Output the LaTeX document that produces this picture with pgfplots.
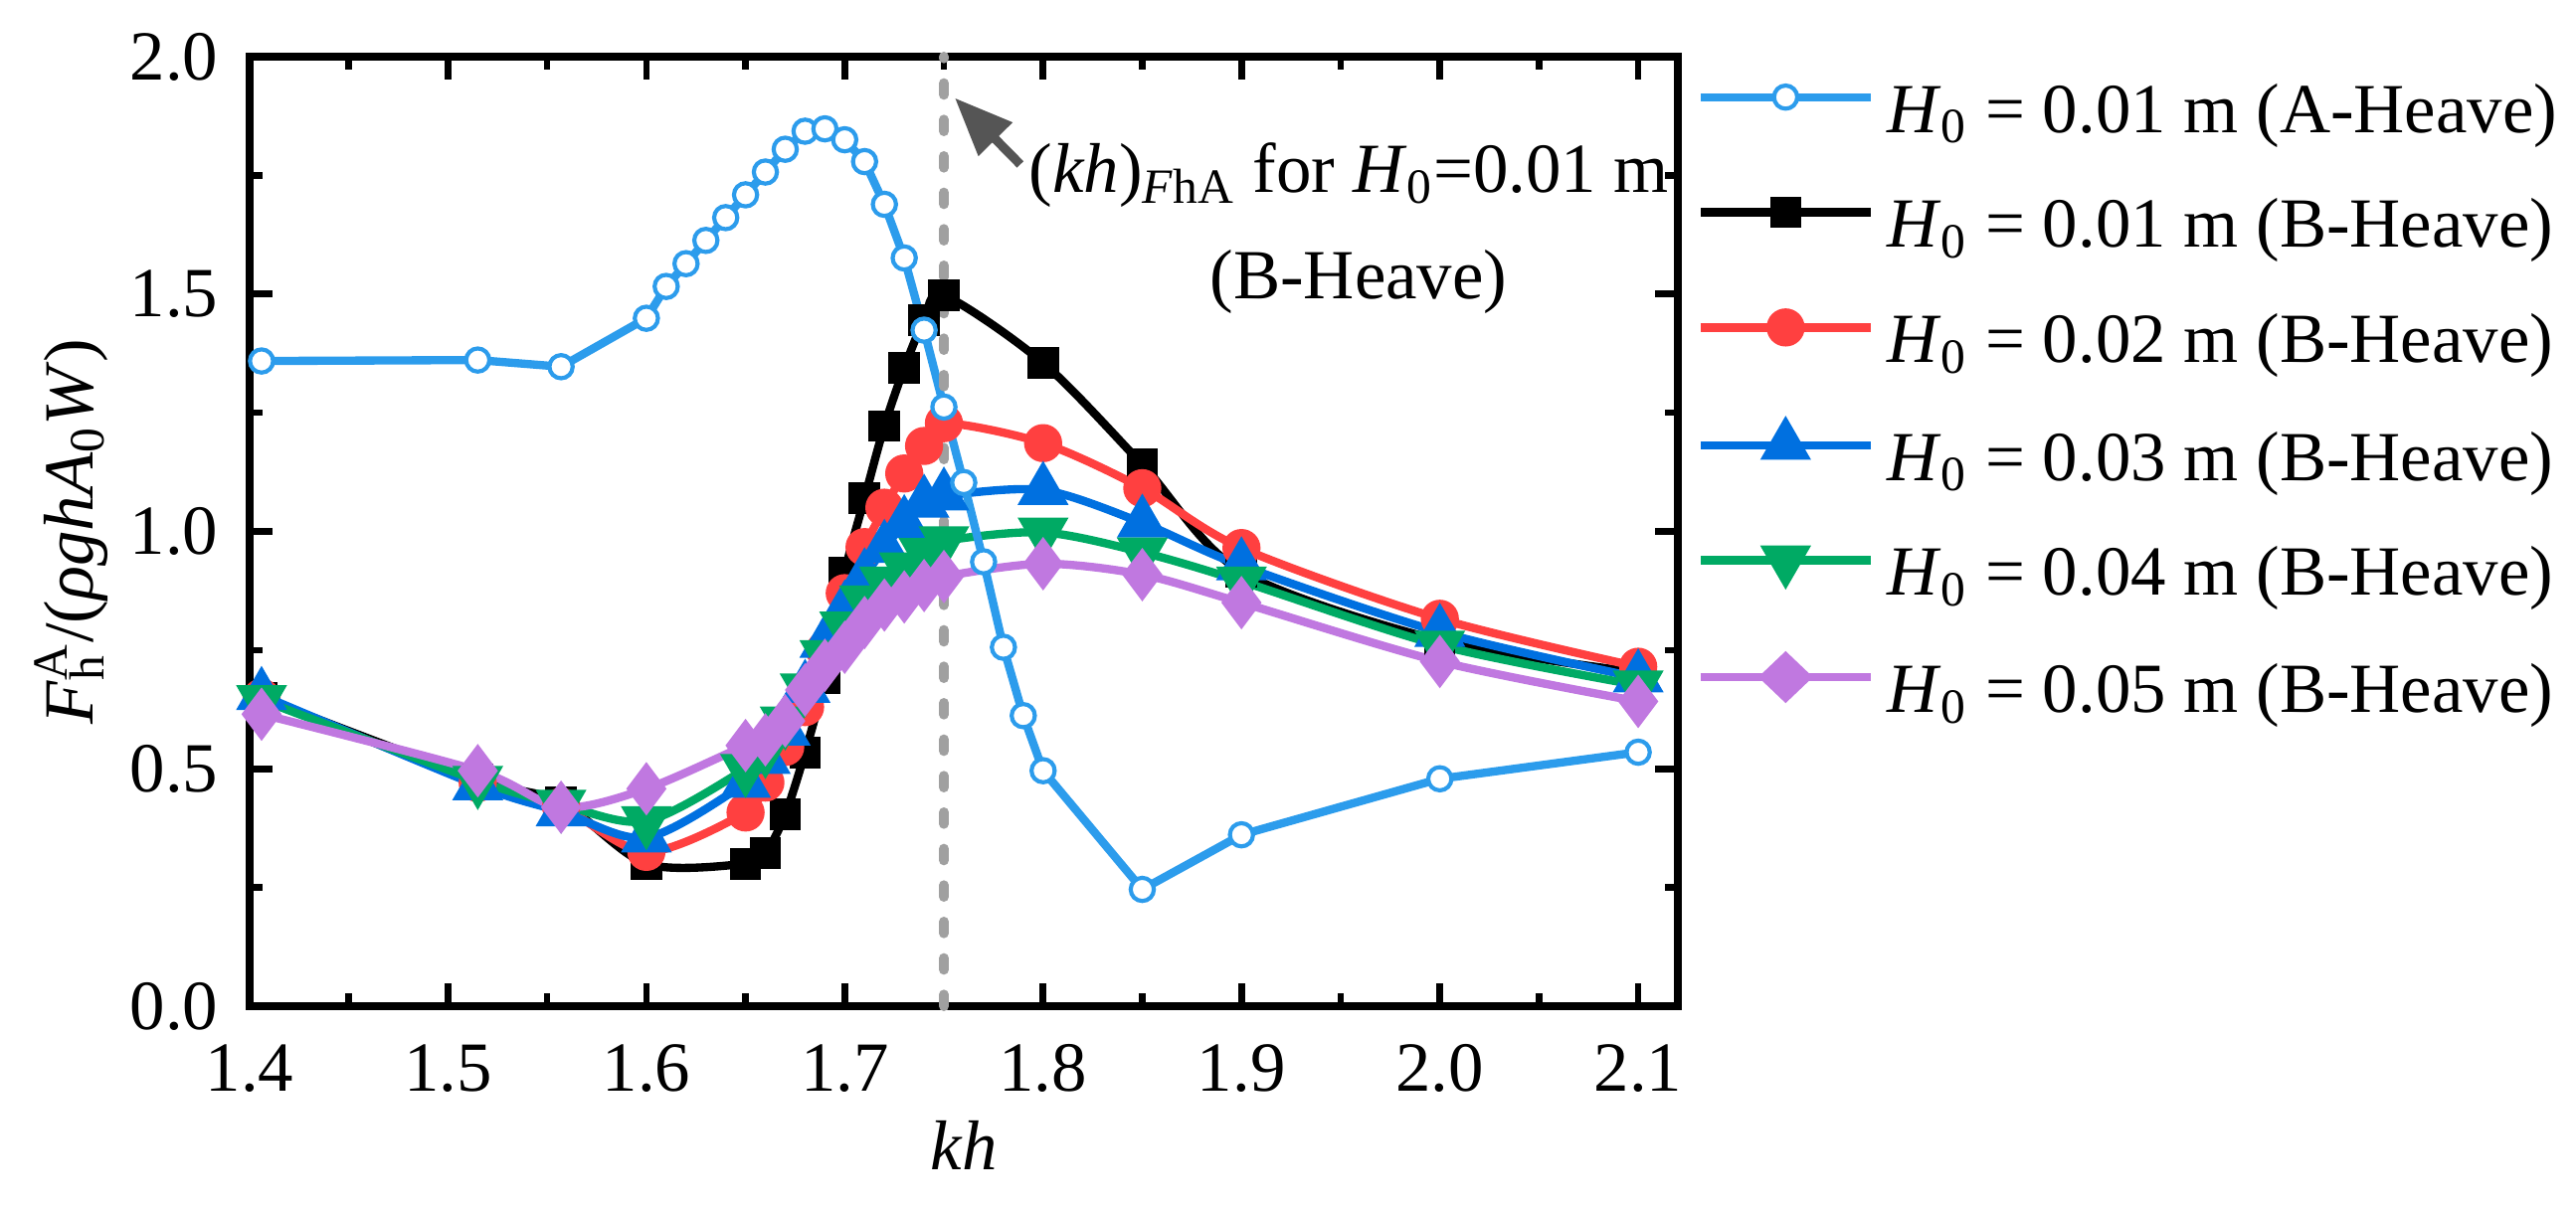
\documentclass[border=0pt]{standalone}
\usepackage{fontspec}
\setmainfont{Liberation Serif}
\usepackage{pgfplots}
\pgfplotsset{compat=1.18}
\usetikzlibrary{arrows.meta}

\definecolor{cA}{RGB}{44,156,236}
\definecolor{cR}{RGB}{255,64,64}
\definecolor{cB}{RGB}{0,112,224}
\definecolor{cG}{RGB}{0,170,100}
\definecolor{cP}{RGB}{192,120,224}
\definecolor{cD}{RGB}{160,160,160}
\definecolor{cArr}{RGB}{85,85,85}

\begin{document}
\begin{tikzpicture}[font=\fontsize{17bp}{20bp}\selectfont]
\path[use as bounding box] (-60.24bp,-48.96bp) rectangle (561.36bp,242.88bp);
\begin{axis}[
    at={(0,0)}, anchor=south west,
    scale only axis, width=344.64bp, height=229.2bp,
    xmin=1.4, xmax=2.12, ymin=0, ymax=2,
    xtick={1.4,1.5,1.6,1.7,1.8,1.9,2.0,2.1},
    minor xtick={1.45,1.55,1.65,1.75,1.85,1.95,2.05},
    ytick={0,0.5,1,1.5,2},
    minor ytick={0.25,0.75,1.25,1.75},
    tick align=inside, tick pos=both,
    major tick length=5.6bp, minor tick length=3.2bp,
    every tick/.style={black, line width=1.6bp},
    axis line style={line width=1.7bp},
    /pgf/number format/assume math mode=true,
    /pgf/number format/.cd, fixed, fixed zerofill, precision=1,
    /pgfplots/.cd,
    xticklabel style={inner sep=0pt, yshift=-9bp},
    yticklabel style={inner sep=0pt, xshift=-7.4bp},
    xlabel={\textit{kh}},
    ylabel={\textit{F}\rlap{\textsubscript{h}}\textsuperscript{A}/(\textit{ρghA}\textsubscript{0}\textit{W})},
    every axis x label/.style={at={(axis description cs:0.5,-0.1466)}, anchor=center},
    every axis y label/.style={at={(axis description cs:-0.1248,0.5)}, rotate=90, anchor=center},
    clip=false,
    legend style={at={(rel axis cs:1.0125,0.628)}, anchor=west, draw=none, fill=none,
        inner sep=0pt, row sep=7.8bp, column sep=3bp,
        nodes={inner sep=0pt, text height=13bp, text depth=7bp}},
    legend cell align=left,
    legend image code/.code={\draw[mark repeat=2, mark phase=2, yshift=5.5bp] plot coordinates {(0bp,0bp)(20.5bp,0bp)(41bp,0bp)};},
]

% H0 = 0.01 m (B-Heave)
\addplot[black, line width=2bp, smooth, mark=square*, mark size=2.8bp, forget plot]
coordinates {(1.406,0.650)(1.515,0.478)(1.557,0.430)(1.600,0.300)(1.650,0.300)(1.660,0.322)(1.670,0.404)(1.680,0.534)(1.690,0.691)(1.700,0.913)(1.710,1.070)(1.720,1.222)(1.730,1.344)(1.740,1.445)(1.750,1.497)(1.800,1.355)(1.850,1.141)(1.900,0.915)(2.000,0.770)(2.100,0.703)};
% H0 = 0.02 m
\addplot[cR, line width=2bp, smooth, mark=*, mark size=3.6bp, forget plot]
coordinates {(1.406,0.650)(1.515,0.470)(1.557,0.420)(1.600,0.325)(1.650,0.408)(1.660,0.471)(1.670,0.546)(1.680,0.630)(1.690,0.750)(1.700,0.870)(1.710,0.967)(1.720,1.050)(1.730,1.122)(1.740,1.180)(1.750,1.228)(1.800,1.186)(1.850,1.091)(1.900,0.965)(2.000,0.816)(2.100,0.715)};
% H0 = 0.03 m
\addplot[cB, line width=2bp, smooth, mark=triangle*, mark size=5.1bp, forget plot]
coordinates {(1.406,0.655)(1.515,0.465)(1.557,0.410)(1.600,0.355)(1.650,0.470)(1.660,0.520)(1.670,0.580)(1.680,0.670)(1.690,0.765)(1.700,0.837)(1.710,0.905)(1.720,0.965)(1.730,1.017)(1.740,1.060)(1.750,1.075)(1.800,1.087)(1.850,1.018)(1.900,0.928)(2.000,0.788)(2.100,0.692)};
% H0 = 0.04 m
\addplot[cG, line width=2bp, smooth, mark=triangle*, mark size=5.1bp, mark options={rotate=180}, forget plot]
coordinates {(1.406,0.645)(1.515,0.475)(1.557,0.425)(1.600,0.390)(1.650,0.500)(1.660,0.540)(1.670,0.600)(1.680,0.670)(1.690,0.740)(1.700,0.800)(1.710,0.855)(1.720,0.895)(1.730,0.925)(1.740,0.955)(1.750,0.980)(1.800,0.998)(1.850,0.956)(1.900,0.895)(2.000,0.760)(2.100,0.676)};
% H0 = 0.05 m
\addplot[cP, line width=2bp, smooth, mark=diamond*, mark size=4.8bp, forget plot]
coordinates {(1.406,0.615)(1.515,0.496)(1.557,0.419)(1.600,0.458)(1.650,0.549)(1.660,0.561)(1.670,0.601)(1.680,0.666)(1.690,0.718)(1.700,0.756)(1.710,0.808)(1.720,0.845)(1.730,0.862)(1.740,0.886)(1.750,0.905)(1.800,0.932)(1.850,0.909)(1.900,0.850)(2.000,0.726)(2.100,0.642)};
% H0 = 0.01 m (A-Heave)
\addplot[cA, line width=2bp, mark=*, mark size=2.8bp, mark options={fill=white, line width=1bp}, forget plot]
coordinates {(1.406,1.359)(1.515,1.361)(1.557,1.347)(1.600,1.449)(1.610,1.516)(1.620,1.564)(1.630,1.613)(1.640,1.661)(1.650,1.709)(1.660,1.757)(1.670,1.805)(1.680,1.843)(1.690,1.848)(1.700,1.825)(1.710,1.779)(1.720,1.689)(1.730,1.576)(1.740,1.424)(1.750,1.262)(1.760,1.103)(1.770,0.936)(1.780,0.756)(1.790,0.612)(1.800,0.496)(1.850,0.246)(1.900,0.361)(2.000,0.479)(2.100,0.535)};
% (kh)_FhA marker
\addplot[cD, line width=2.4bp, line cap=round, dash pattern=on 2.8bp off 6bp, forget plot]
coordinates {(1.75,0)(1.75,2)};

\draw[cArr, line width=2.2bp, -{Triangle[length=14bp,width=11bp]}] (axis cs:1.7885,1.773) -- (axis cs:1.7555,1.913);
\node[anchor=base west, inner sep=0pt] at (axis cs:1.7925,1.714)
    {(\textit{kh})\textsubscript{\textit{F}hA} for \textit{H}\textsubscript{0}=0.01 m};
\node[anchor=base, inner sep=0pt] at (axis cs:1.959,1.49) {(B-Heave)};

\addlegendimage{cA, line width=2bp, mark=*, mark size=2.8bp, mark options={fill=white, line width=1bp}}
\addlegendentry{\textit{H}\textsubscript{0} = 0.01 m (A-Heave)}
\addlegendimage{black, line width=2bp, mark=square*, mark size=2.8bp}
\addlegendentry{\textit{H}\textsubscript{0} = 0.01 m (B-Heave)}
\addlegendimage{cR, line width=2bp, mark=*, mark size=3.6bp}
\addlegendentry{\textit{H}\textsubscript{0} = 0.02 m (B-Heave)}
\addlegendimage{cB, line width=2bp, mark=triangle*, mark size=5.1bp}
\addlegendentry{\textit{H}\textsubscript{0} = 0.03 m (B-Heave)}
\addlegendimage{cG, line width=2bp, mark=triangle*, mark size=5.1bp, mark options={rotate=180}}
\addlegendentry{\textit{H}\textsubscript{0} = 0.04 m (B-Heave)}
\addlegendimage{cP, line width=2bp, mark=diamond*, mark size=4.9bp, mark options={xscale=1.4}}
\addlegendentry{\textit{H}\textsubscript{0} = 0.05 m (B-Heave)}
\end{axis}
\end{tikzpicture}
\end{document}
